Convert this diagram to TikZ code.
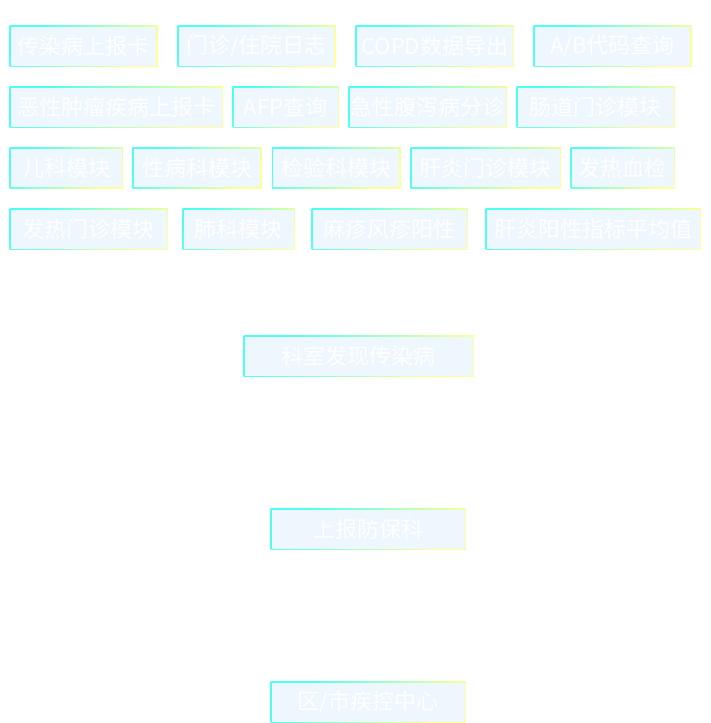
\documentclass[tikz,border=0pt]{standalone}
\usepackage{fontspec}
\newfontfamily\cjk{Noto Sans CJK SC}
\definecolor{bcyan}{RGB}{77,255,240}
\definecolor{borange}{RGB}{245,165,95}
\definecolor{byellow}{RGB}{255,255,150}
\definecolor{boxfill}{RGB}{238,246,254}
\tikzset{
  gbox/.style={anchor=north west, inner sep=0pt, minimum height=41.4pt,
    text=white, font=\cjk\fontsize{22pt}{24pt}\selectfont,
    left color=bcyan, middle color=borange, right color=byellow, shading angle=45,
    path picture={\fill[boxfill] ([xshift=1.3pt,yshift=1.3pt]path picture bounding box.south west) rectangle ([xshift=-1.3pt,yshift=-1.3pt]path picture bounding box.north east);}}
}
\begin{document}
\begin{tikzpicture}[x=1pt,y=1pt]
\useasboundingbox (0,0) rectangle (710,-723);
% row 1
\node[gbox, minimum width=148pt] (a1) at (9.3,-25.3) {传染病上报卡};
\node[gbox, minimum width=158pt] (a2) at (177.3,-25.3) {门诊/住院日志};
\node[gbox, minimum width=158.4pt] (a3) at (355.3,-25.3) {COPD数据导出};
\node[gbox, minimum width=158pt] (a4) at (533.3,-25.3) {A/B代码查询};
% row 2
\node[gbox, minimum width=213.4pt] (b1) at (9.3,-86.3) {恶性肿瘤疾病上报卡};
\node[gbox, minimum width=106.4pt] (b2) at (232.3,-86.3) {AFP查询};
\node[gbox, minimum width=158.4pt] (b3) at (348.3,-86.3) {急性腹泻病分诊};
\node[gbox, minimum width=158.4pt] (b4) at (516.3,-86.3) {肠道门诊模块};
% row 3
\node[gbox, minimum width=113.4pt] (c1) at (9.3,-147) {儿科模块};
\node[gbox, minimum width=129pt] (c2) at (132.3,-147) {性病科模块};
\node[gbox, minimum width=128.6pt] (c3) at (271.7,-147) {检验科模块};
\node[gbox, minimum width=150.4pt] (c4) at (410.3,-147) {肝炎门诊模块};
\node[gbox, minimum width=104.4pt] (c5) at (570.3,-147) {发热血检};
% row 4
\node[gbox, minimum width=158.4pt] (d1) at (9.3,-208.3) {发热门诊模块};
\node[gbox, minimum width=112.4pt] (d2) at (182.3,-208.3) {肺科模块};
\node[gbox, minimum width=156.4pt] (d3) at (311.3,-208.3) {麻疹风疹阳性};
\node[gbox, minimum width=215.4pt] (d4) at (485.3,-208.3) {肝炎阳性指标平均值};
% flow
\node[gbox, minimum width=230.4pt] (e1) at (243.3,-335.3) {科室发现传染病};
\node[gbox, minimum width=195.4pt] (e2) at (270.3,-508.3) {上报防保科};
\node[gbox, minimum width=195.4pt] (e3) at (270.3,-681.5) {区/市疾控中心};
\end{tikzpicture}
\end{document}
